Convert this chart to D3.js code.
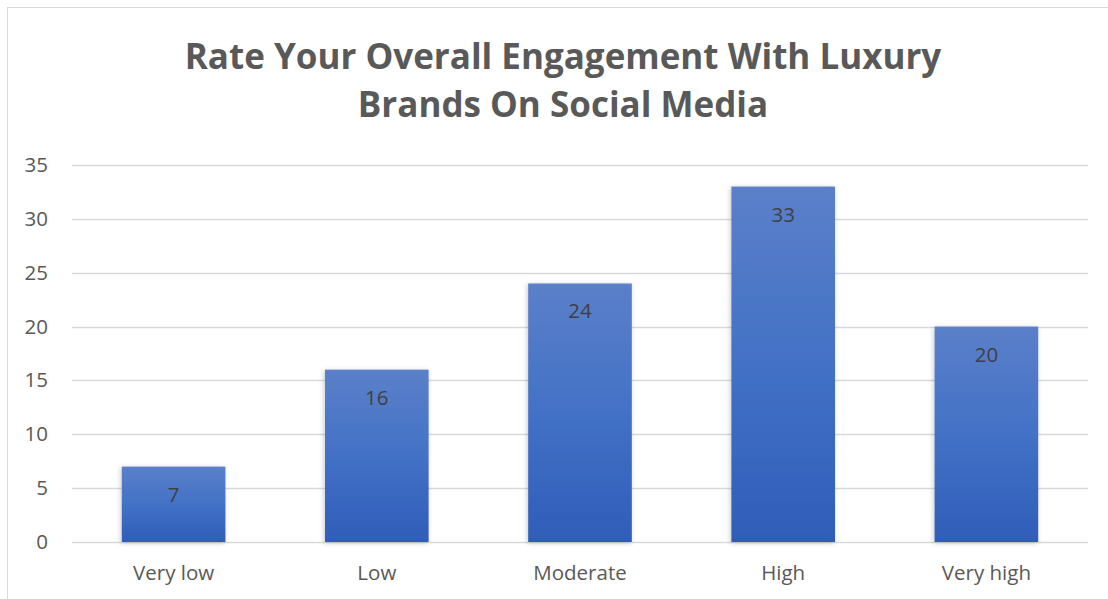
<!DOCTYPE html>
<html>
<head>
<meta charset="utf-8">
<script src="https://cdn.jsdelivr.net/npm/d3@7/dist/d3.min.js"></script>
<style>
  html, body { margin: 0; padding: 0; background: #fff; }
  svg { display: block; font-family: "Open Sans", "Noto Sans", sans-serif; }
</style>
</head>
<body>
<div id="chart"></div>
<script>
const categories = ['Very low', 'Low', 'Moderate', 'High', 'Very high'];
const values = [7, 16, 24, 33, 20];
const yTicks = [0, 5, 10, 15, 20, 25, 30, 35];
const titleLines = ['Rate Your Overall Engagement With Luxury', 'Brands On Social Media'];

const width = 1108, height = 599;
const margin = { top: 165, right: 20, bottom: 57, left: 72 };
const font = '"Open Sans", "Noto Sans", sans-serif';

const svg = d3.select('#chart')
  .append('svg')
  .attr('width', width)
  .attr('height', height);

const defs = svg.append('defs');
const grad = defs.append('linearGradient')
  .attr('id', 'barGrad')
  .attr('x1', 0).attr('y1', 0).attr('x2', 0).attr('y2', 1);
grad.append('stop').attr('offset', '0%').attr('stop-color', '#5b80c9');
grad.append('stop').attr('offset', '50%').attr('stop-color', '#4371c6');
grad.append('stop').attr('offset', '100%').attr('stop-color', '#2f5db8');

const shadow = defs.append('filter')
  .attr('id', 'shadow')
  .attr('x', '-20%').attr('y', '-20%').attr('width', '140%').attr('height', '140%');
shadow.append('feDropShadow')
  .attr('dx', -1).attr('dy', 1).attr('stdDeviation', 2.5)
  .attr('flood-color', '#000').attr('flood-opacity', 0.22);

// chart frame
svg.append('rect')
  .attr('x', 7.5).attr('y', 7.5)
  .attr('width', width + 10).attr('height', height + 10)
  .attr('fill', 'none')
  .attr('stroke', '#d9d9d9')
  .attr('stroke-width', 1);

const x = d3.scaleBand()
  .domain(categories)
  .range([margin.left, width - margin.right])
  .paddingInner(0.49)
  .paddingOuter(0.245);

const y = d3.scaleLinear()
  .domain([0, 35])
  .range([height - margin.bottom, margin.top]);

// gridlines
svg.append('g')
  .selectAll('line')
  .data(yTicks)
  .join('line')
  .attr('x1', margin.left)
  .attr('x2', width - margin.right)
  .attr('y1', d => Math.round(y(d)) + 0.5)
  .attr('y2', d => Math.round(y(d)) + 0.5)
  .attr('stroke', '#d9d9d9')
  .attr('stroke-width', 1.3);

// y axis labels
const yAxis = d3.axisLeft(y).tickValues(yTicks).tickSize(0).tickPadding(0);
const yg = svg.append('g')
  .attr('transform', `translate(${margin.left - 24},0)`)
  .call(yAxis);
yg.select('.domain').remove();
yg.selectAll('text')
  .attr('text-anchor', 'end')
  .attr('fill', '#595959')
  .style('font-size', '20.5px')
  .style('font-family', font);

// bars
svg.append('g')
  .selectAll('rect')
  .data(values)
  .join('rect')
  .attr('x', (d, i) => x(categories[i]))
  .attr('y', d => y(d))
  .attr('width', x.bandwidth())
  .attr('height', d => y(0) - y(d))
  .attr('fill', 'url(#barGrad)')
  .attr('filter', 'url(#shadow)');

// data labels
svg.append('g')
  .selectAll('text')
  .data(values)
  .join('text')
  .attr('x', (d, i) => x(categories[i]) + x.bandwidth() / 2)
  .attr('y', d => y(d) + 35)
  .attr('text-anchor', 'middle')
  .attr('fill', '#404040')
  .style('font-size', '20.5px')
  .text(d => d);

// x axis labels
const xAxis = d3.axisBottom(x).tickSize(0).tickPadding(0);
const xg = svg.append('g')
  .attr('transform', `translate(0,${y(0) + 23})`)
  .call(xAxis);
xg.select('.domain').remove();
xg.selectAll('text')
  .attr('fill', '#595959')
  .attr('dy', '0.71em')
  .style('font-size', '20.5px')
  .style('font-family', font);

// title
svg.append('g')
  .selectAll('text')
  .data(titleLines)
  .join('text')
  .attr('x', 563)
  .attr('y', (d, i) => 69 + i * 48)
  .attr('text-anchor', 'middle')
  .attr('fill', '#595959')
  .style('font-size', '35px')
  .style('font-weight', 'bold')
  .text(d => d);
</script>
</body>
</html>
